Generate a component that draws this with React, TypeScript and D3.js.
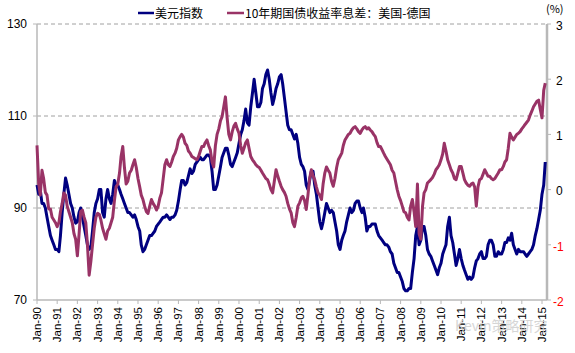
import React from "react";
import * as d3 from "d3";

// monthly values, Jan 1990 .. Mar 2015
const startMonth = new Date(1990, 0, 1);

const usdIndex = [
  // 1990
  95, 93, 94, 91, 91, 90, 88, 86, 84, 83, 82, 81,
  // 1991
  81, 80.5, 84, 89, 93, 96.5, 95, 93, 91, 90, 88, 86.7,
  // 1992
  87, 89, 90, 88, 86, 84, 82, 81, 81.5, 85, 89, 91,
  // 1993
  92, 94, 94, 89, 88, 92, 94, 92, 91, 93, 96, 95,
  // 1994
  95, 94, 93, 92, 91, 90, 89, 89, 88.5, 88, 88.5, 87.5,
  // 1995
  86, 85, 82, 80.5, 81, 82, 83, 84, 84, 84.5, 85, 86,
  // 1996
  86.5, 87, 87.5, 88, 88, 88.5, 88, 87.5, 88, 88, 88.5, 89.5,
  // 1997
  91.5, 94, 96, 96, 95, 95.5, 97, 98.5, 97.5, 98, 99.5, 100,
  // 1998
  100.5, 101, 100.5, 100.5, 101, 101.5, 101.5, 101, 98, 94, 94, 95,
  // 1999
  97, 99, 101, 102, 103, 103, 101.5, 99.5, 99, 100, 101, 102,
  // 2000
  104, 106, 107, 109, 111.5, 108.5, 108, 112, 115, 118, 115, 112,
  // 2001
  112, 113, 116, 117, 119, 120, 118, 115, 112.5, 114, 116, 117,
  // 2002
  118.5, 119, 117, 114, 111, 108, 107, 107, 106, 105, 106, 104,
  // 2003
  101, 99.5, 99, 98, 95, 94, 96, 98, 98, 95, 93, 90,
  // 2004
  87, 85.5, 87, 89, 91, 90, 89, 89.5, 89, 87, 85, 82,
  // 2005
  81, 83, 84, 85, 87, 88.5, 90, 89, 89.5, 91, 91.5, 91.5,
  // 2006
  90, 89, 90, 88, 85, 86, 86, 86.5, 86.5, 86.5, 85, 84,
  // 2007
  83.5, 83, 82.5, 82, 82, 81.5, 80.5, 80, 78, 77, 76, 76,
  // 2008
  75, 74, 72.5, 72, 72, 72.5, 72.5, 76, 79, 84, 86, 82,
  // 2009
  83, 86, 86, 84, 81, 80, 79.5, 78.5, 77.5, 76.5, 75.5, 77,
  // 2010
  78, 80, 81, 82, 86, 88, 84, 82.5, 80, 77.5, 79, 81,
  // 2011
  79, 77.5, 76.5, 75.5, 74.5, 75, 74.5, 75, 77, 78.5, 79, 80,
  // 2012
  80.5, 79, 79, 79.5, 82, 83, 83, 82, 79.5, 79.5, 80.5, 80,
  // 2013
  80, 81, 82.5, 82.5, 83.5, 83, 84.5, 82, 81, 80, 81, 80.5,
  // 2014
  80.5, 80.5, 80, 79.5, 80, 80.5, 81, 82, 84, 85.5, 87.5, 89.5,
  // 2015
  93, 95, 100,
];

const yieldSpread = [
  // 1990
  0.8, 0.1, -0.1, 0.35, 0.2, -0.05, -0.1, -0.35, -0.35, -0.5, -0.55, -0.6,
  // 1991
  -0.67, -0.6, -0.4, -0.25, -0.06, -0.1, -0.3, -0.4, -0.5, -0.6, -0.8, -0.9,
  // 1992
  -1.2, -0.8, -0.4, -0.37, -0.5, -0.6, -1.0, -1.55, -1.3, -1.0, -0.7, -0.5,
  // 1993
  -0.43, -0.45, -0.55, -0.7, -0.8, -0.9, -0.75, -0.7, -0.6, -0.5, -0.2, 0.05,
  // 1994
  0.1, 0.3, 0.6, 0.78, 0.4, 0.1, 0.15, 0.3, 0.35, 0.45, 0.54, 0.4,
  // 1995
  0.2, 0.05, -0.1, -0.18, -0.3, -0.4, -0.43, -0.3, -0.18, -0.25, -0.3, -0.37,
  // 1996
  -0.3, -0.15, -0.06, 0.2, 0.45, 0.54, 0.45, 0.42, 0.5, 0.6, 0.66, 0.75,
  // 1997
  0.9, 0.96, 1.0, 0.95, 0.84, 0.8, 0.7, 0.66, 0.6, 0.58, 0.56, 0.54,
  // 1998
  0.6, 0.7, 0.78, 0.78, 0.85, 0.9, 0.8, 0.72, 0.5, 0.41, 0.8, 1.0,
  // 1999
  1.1, 1.25, 1.32, 1.5, 1.68, 1.3, 1.0, 0.9, 1.05, 1.15, 1.2, 1.1,
  // 2000
  1.02, 0.8, 0.66, 0.75, 0.85, 0.9, 0.75, 0.6, 0.54, 0.5, 0.45, 0.42,
  // 2001
  0.4, 0.35, 0.3, 0.25, 0.2, 0.18, 0.1, 0.0, -0.06, 0.15, 0.36, 0.25,
  // 2002
  0.15, 0.06, 0.0, -0.05, -0.12, -0.25, -0.35, -0.42, -0.6, -0.67, -0.5, -0.3,
  // 2003
  -0.24, -0.15, -0.12, -0.2, -0.36, -0.1, 0.2, 0.36, 0.25, 0.18, 0.05, -0.06,
  // 2004
  -0.1, -0.18, 0.1, 0.3, 0.41, 0.35, 0.3, 0.15, 0.06, 0.2, 0.4, 0.54,
  // 2005
  0.6, 0.66, 0.8, 0.9, 0.95, 1.0, 1.02, 1.08, 1.12, 1.14, 1.1, 1.05,
  // 2006
  1.02, 1.08, 1.12, 1.14, 1.1, 1.12, 1.08, 1.05, 1.0, 0.96, 0.85, 0.78,
  // 2007
  0.78, 0.72, 0.66, 0.6, 0.55, 0.5, 0.45, 0.35, 0.3, 0.15, 0.0, -0.12,
  // 2008
  -0.2, -0.3, -0.4, -0.42, -0.5, -0.55, -0.3, -0.18, -0.4, -0.67, 0.1, -0.8,
  // 2009
  -0.9, -0.3, -0.06, 0.0, 0.12, 0.15, 0.18, 0.22, 0.28, 0.36, 0.4, 0.45,
  // 2010
  0.54, 0.65, 0.84, 0.7, 0.54, 0.45, 0.36, 0.3, 0.2, 0.18, 0.3, 0.42,
  // 2011
  0.42, 0.3, 0.18, 0.12, 0.08, 0.06, 0.1, 0.12, 0.05, -0.3, 0.05, 0.18,
  // 2012
  0.2, 0.28, 0.36, 0.3, 0.24, 0.24, 0.2, 0.18, 0.2, 0.25, 0.3, 0.36,
  // 2013
  0.36, 0.42, 0.5, 0.54, 0.75, 1.02, 0.95, 0.9, 0.95, 1.0, 1.02, 1.05,
  // 2014
  1.1, 1.14, 1.18, 1.22, 1.26, 1.35, 1.42, 1.5, 1.55, 1.6, 1.62, 1.45,
  // 2015
  1.3, 1.8, 1.93,
];

const leftTicks = [70, 90, 110, 130];
const rightTicks = [-2, -1, 0, 1, 2, 3];
const gridValues = [90, 110, 130];
const seriesNames = ["美元指数", "10年期国债收益率息差：美国-德国"];

const W = 575;
const H = 353;
const left = 37;
const right = 547;
const top = 24;
const bottom = 300;

const BLUE = "#000080";
const PLUM = "#993366";
const AXIS = "#b8b8b8";
const FONT = "'Liberation Sans', Arial, sans-serif";
const CJK = "'Noto Sans CJK SC', sans-serif";

export default function App() {
  const dates = usdIndex.map((_, i) => d3.timeMonth.offset(startMonth, i));

  const x = d3
    .scaleTime()
    .domain([new Date(1990, 0, 1), new Date(2015, 0, 1)])
    .range([left, 542]);
  const yL = d3.scaleLinear().domain([70, 130]).range([bottom, top]);
  const yR = d3.scaleLinear().domain([-2, 3]).range([bottom, top]);

  const xTicks = d3.timeYear.range(new Date(1990, 0, 1), new Date(2015, 1, 1));
  const fmt = d3.timeFormat("%b-%y");

  const usdLine = d3
    .line<number>()
    .x((_, i) => x(dates[i]))
    .y((d) => yL(d))(usdIndex);
  const spreadLine = d3
    .line<number>()
    .x((_, i) => x(dates[i]))
    .y((d) => yR(d))(yieldSpread);

  return (
    <svg
      width={W}
      height={H}
      style={{ position: "absolute", left: 0, top: 0, background: "#fff" }}
    >
      {/* legend */}
      <g fontFamily={CJK} fontSize={12} fill="#000">
        <line x1={138} x2={154} y1={13} y2={13} stroke={BLUE} strokeWidth={2.5} />
        <text x={155} y={17.5}>{seriesNames[0]}</text>
        <line x1={227} x2={244} y1={13} y2={13} stroke={PLUM} strokeWidth={2.5} />
        <text x={245} y={17.5}>{seriesNames[1]}</text>
      </g>
      <text x={546} y={13} fontFamily={CJK} fontSize={11}>
        (%)
      </text>

      {/* grid */}
      {gridValues.map((v) => (
        <line
          key={v}
          x1={left}
          x2={right}
          y1={yL(v)}
          y2={yL(v)}
          stroke="#a0a0a0"
          strokeWidth={1}
          strokeDasharray="4,3"
        />
      ))}

      {/* left axis */}
      <line x1={left} x2={left} y1={top} y2={bottom} stroke={AXIS} strokeWidth={1.5} />
      {leftTicks.map((v) => (
        <g key={v}>
          <line x1={left - 4} x2={left} y1={yL(v)} y2={yL(v)} stroke={AXIS} />
          <text
            x={27}
            y={yL(v)}
            dy="0.35em"
            textAnchor="end"
            fontFamily={FONT}
            fontSize={12}
          >
            {v}
          </text>
        </g>
      ))}

      {/* right axis */}
      <line x1={right} x2={right} y1={top} y2={bottom} stroke={AXIS} strokeWidth={2.5} />
      {rightTicks.map((v) => (
        <g key={v}>
          <line x1={right} x2={right + 4} y1={yR(v)} y2={yR(v)} stroke={AXIS} />
          <text
            x={v < 0 ? 553 : 556}
            y={yR(v) + 1.5}
            dy="0.35em"
            fontFamily={FONT}
            fontSize={12}
            fill={v < 0 ? "#ff0000" : "#000"}
          >
            {v}
          </text>
        </g>
      ))}

      {/* bottom axis */}
      <line x1={left} x2={right} y1={bottom} y2={bottom} stroke={AXIS} strokeWidth={1.5} />
      {xTicks.map((d) => (
        <g key={d.getTime()}>
          <line x1={x(d)} x2={x(d)} y1={bottom} y2={bottom + 4} stroke={AXIS} />
          <text
            transform={`translate(${x(d)},${bottom + 7}) rotate(-90)`}
            dy="0.35em"
            textAnchor="end"
            fontFamily={FONT}
            fontSize={11.5}
          >
            {fmt(d)}
          </text>
        </g>
      ))}

      {/* series */}
      <path
        d={usdLine || ""}
        fill="none"
        stroke={BLUE}
        strokeWidth={3}
        strokeLinejoin="round"
      />
      <path
        d={spreadLine || ""}
        fill="none"
        stroke={PLUM}
        strokeWidth={3}
        strokeLinejoin="round"
      />

      {/* watermark */}
      <text
        x={455}
        y={331}
        fontFamily={CJK}
        fontSize={14}
        fill="#d0d0d0"
        opacity={0.85}
      >
        Kevin策略研究
      </text>
    </svg>
  );
}
